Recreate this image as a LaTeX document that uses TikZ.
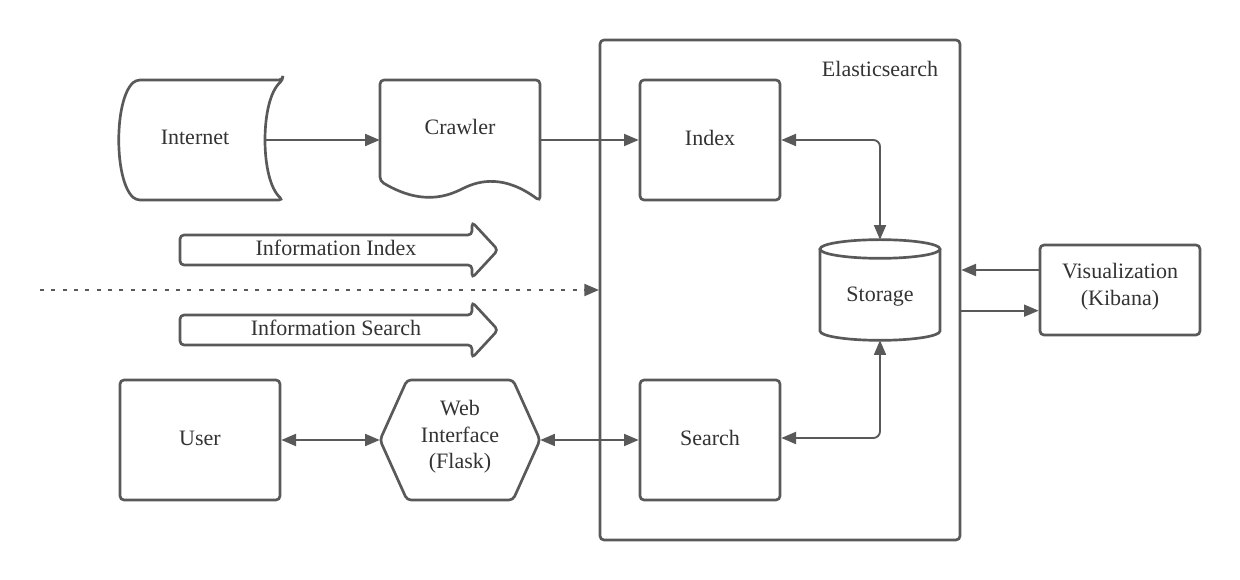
\documentclass[tikz,border=0pt]{standalone}
\usepackage{fontspec}
\setmainfont{Liberation Serif}
\usetikzlibrary{arrows.meta}
\definecolor{ln}{HTML}{595959}
\definecolor{tx}{HTML}{333333}
\begin{document}
\begin{tikzpicture}[x=0.75pt,y=-0.75pt,
  shp/.style={draw=ln,line width=2pt,rounded corners=3pt},
  box/.style={shp,minimum width=105pt,minimum height=90pt,inner sep=0pt},
  ghost/.style={inner sep=0pt,minimum width=#1},
  conn/.style={draw=ln,line width=1.4pt},
  tip/.style={-{Triangle[length=11pt,width=9pt]}},
  tips/.style={{Triangle[length=11pt,width=9pt]}-{Triangle[length=11pt,width=9pt]}},
  lbl/.style={text=tx,font=\fontsize{16.5}{20}\selectfont,align=center,inner sep=0pt},
  every node/.style={text=tx,font=\fontsize{16.5}{20}\selectfont}
]
\useasboundingbox[fill=white] (0,0) rectangle (1240,580);

% Elasticsearch container
\node[shp,minimum width=270pt,minimum height=375pt,inner sep=0pt] (es) at (780,290) {};
\node[lbl] (eslbl) at (880,69) {Elasticsearch};

% Internet (stored data shape)
\draw[shp] (283,80) -- (136,80) .. controls (114,100) and (114,180) .. (136,200) -- (283,200)
  .. controls (260,180) and (260,100) .. (283,80) -- cycle;
\node[ghost=109.5pt,minimum height=90pt] (internet) at (193,140) {};
\node[lbl] at (195,137) {Internet};

% Crawler (document shape)
\draw[shp] (380,80) -- (540,80) -- (540,201)
  .. controls (505,175) and (480,180) .. (460,190)
  .. controls (430,203) and (405,196) .. (380,181) -- cycle;
\node[ghost=120pt,minimum height=90pt] (crawler) at (460,140) {};
\node[lbl] at (460,127) {Crawler};

% Index, Search
\node[box] (index) at (710,140) {};
\node[lbl] at (710,138) {Index};
\node[box] (search) at (710,440) {};
\node[lbl] at (710,438) {Search};

% Storage cylinder
\node[ghost=90pt,minimum height=75pt] (storage) at (880,290) {};
\draw[shp,rounded corners=0pt] (880,249) ellipse [x radius=45pt, y radius=7pt];
\draw[shp,rounded corners=0pt] (820,249) -- (820,331) arc[start angle=180,end angle=360,x radius=45pt,y radius=7pt] -- (940,249);
\node[lbl] at (880,297) {Storage};

% Visualization
\node[shp,minimum width=120pt,minimum height=67.5pt,inner sep=0pt] (vis) at (1120,290) {};
\node[lbl] at (1120,287) {Visualization\\(Kibana)};

% User
\node[box,minimum width=120pt] (user) at (200,440) {};
\node[lbl] at (200,438) {User};

% Web interface hexagon
\draw[shp] (380,440) -- (407,380) -- (513,380) -- (540,440) -- (513,500) -- (407,500) -- cycle;
\node[ghost=120pt,minimum height=90pt] (web) at (460,440) {};
\node[lbl] at (460,437) {Web\\Interface\\(Flask)};

% Information arrows
\draw[shp] (180,235) -- (472,235) -- (472,222) -- (498,250) -- (472,278) -- (472,265) -- (180,265) -- cycle;
\node[lbl] (infoidx) at (336,248) {Information Index};
\draw[shp] (180,315) -- (472,315) -- (472,302) -- (498,330) -- (472,358) -- (472,345) -- (180,345) -- cycle;
\node[lbl] (infosrch) at (336,328) {Information Search};

% dotted line
\coordinate (dotstart) at (40,290);
\coordinate (dotend) at (599,290);
\draw[conn,tip,dash pattern=on 3pt off 5.5pt] (dotstart) -- (dotend);

% connectors
\draw[conn,tip] (internet.east) -- (crawler.west);
\draw[conn,tip] (crawler.east) -- (index.west);
\draw[conn,tips,rounded corners=5pt] (index.east) -| (storage.north);
\draw[conn,tips,rounded corners=5pt] ([yshift=1.5pt]search.east) -| (storage.south);
\draw[conn,tips] (user.east) -- (web.west);
\draw[conn,tips] (web.east) -- (search.west);
\draw[conn,tip] ([yshift=15pt]vis.west) -- ([yshift=15pt]vis.west -| es.east);
\draw[conn,tip] ([yshift=-15.5pt]es.east) -- ([yshift=-15.5pt]es.east -| vis.west);
\end{tikzpicture}
\end{document}
